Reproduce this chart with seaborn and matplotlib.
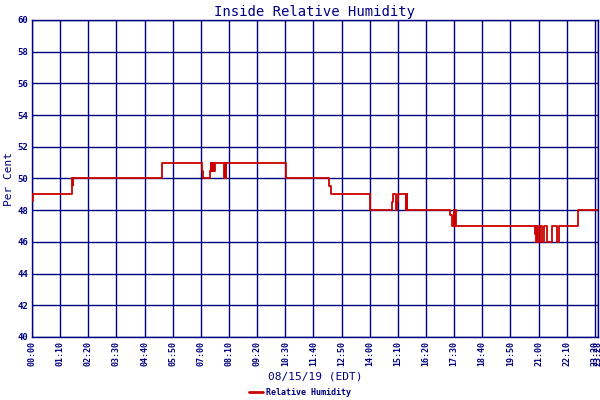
import matplotlib
matplotlib.use("Agg")
import matplotlib.pyplot as plt
import numpy as np
import pandas as pd
import seaborn as sns

# minutes since midnight, 08/15/19 (change points of the step trace)
minutes = [0, 2, 100, 101, 102, 323, 423, 425, 443, 445, 446, 447, 448, 449,
           450, 452, 453, 455, 478, 479, 480, 481, 482, 483, 632, 739, 744,
           841, 895, 898, 905, 908, 911, 930, 931, 932, 933, 934, 1040, 1044,
           1049, 1050, 1051, 1052, 1053, 1054, 1251, 1253, 1255, 1257, 1258,
           1260, 1263, 1269, 1273, 1281, 1294, 1306, 1311, 1358, 1408]
humidity = [48.6, 49, 50, 49.6, 50, 51, 50.5, 50, 50.5, 51, 50.5, 51, 50.5, 51,
            50.5, 51, 50.5, 51, 50, 51, 50, 51, 50, 51, 50, 49.5, 49,
            48, 48.5, 49, 48, 48.5, 49, 48, 49, 48, 49, 48, 47.7, 47,
            48, 47, 48, 47, 48, 47, 46.5, 47, 46, 47, 46,
            46, 47, 46, 47, 46, 47, 46, 47, 48, 48]

tick_minutes = list(range(0, 1401, 70)) + [1408]
tick_labels = ["%02d:%02d" % (m // 60, m % 60) for m in tick_minutes]

df = pd.DataFrame({"minute": minutes, "rh": humidity})

sns.set_style("white")
plt.rcParams['font.family'] = ['DejaVu Sans Mono', 'DejaVu Sans']

navy = "#000080"
red = "#cc0000"

fig = plt.figure(figsize=(6, 4), dpi=100)
ax = fig.add_axes([32 / 600, 1 - 337 / 400, 566 / 600, 317 / 400])

sns.lineplot(data=df, x="minute", y="rh", drawstyle="steps-post", color=red,
             linewidth=1.3, ax=ax, label="Relative Humidity", zorder=3)

ax.set_xlim(0, 1408)
ax.set_ylim(40, 60)
ax.set_yticks(np.arange(40, 61, 2))
ax.set_xticks(tick_minutes)
ax.set_xticklabels(tick_labels, rotation=90, fontsize=6, color=navy, fontweight="bold")
ax.set_yticklabels([str(v) for v in range(40, 61, 2)], fontsize=6.5, color=navy, fontweight="bold")
ax.tick_params(length=0, pad=3)
ax.grid(True, color=navy, linewidth=1.0)
for s in ax.spines.values():
    s.set_color(navy)
    s.set_linewidth(1.0)

ax.set_title("Inside Relative Humidity", color=navy, fontsize=10, pad=3)
ax.set_ylabel("Per Cent", color=navy, fontsize=8, labelpad=2)
ax.set_xlabel("08/15/19 (EDT)", color=navy, fontsize=8, labelpad=4)

ax.get_legend().remove()
h, l = ax.get_legend_handles_labels()
leg = fig.legend(h, l, loc="lower center", bbox_to_anchor=(0.5, -0.012), frameon=False,
                 fontsize=6, handlelength=1.6, handletextpad=0.4)
for t in leg.get_texts():
    t.set_color(navy)
    t.set_fontweight("bold")
for line in leg.get_lines():
    line.set_linewidth(2)

fig.savefig("out.png", dpi=100)
